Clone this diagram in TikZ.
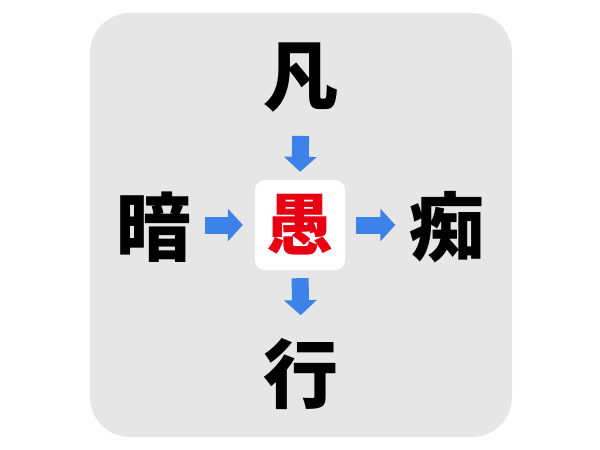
\documentclass[tikz,border=0pt]{standalone}
\usepackage{fontspec}
\newfontfamily\cjk{Noto Sans CJK JP}
\usetikzlibrary{arrows.meta}

\definecolor{panelgray}{HTML}{E6E6E6}
\definecolor{arrowblue}{HTML}{3D82E8}
\definecolor{answerred}{HTML}{E60012}

\begin{document}
\begin{tikzpicture}[x=1pt, y=-1pt]
  \tikzstyle{panel} = [fill=panelgray, rounded corners=40pt, minimum width=422pt, minimum height=424pt, inner sep=0pt]
  \tikzstyle{answer} = [fill=white, rounded corners=10pt, minimum size=90pt, inner sep=0pt, text=answerred, font=\cjk\bfseries\fontsize{67}{67}\selectfont]
  \tikzstyle{kanji} = [inner sep=0pt, font=\cjk\bfseries\fontsize{75}{75}\selectfont]
  \tikzstyle{hint} = [line width=17pt, draw=arrowblue, -{Triangle[width=32pt, length=15pt]}]

  \useasboundingbox (0,0) rectangle (600,450);

  \node[panel] (board) at (301,225) {};
  \node[answer] (gu) at (300,225) {愚};

  \node[kanji] (bon) at (301,78) {凡};
  \node[kanji] (an) at (154,227) {暗};
  \node[kanji] (chi) at (447,227) {痴};
  \node[kanji] (gyou) at (301,374) {行};

  \draw[hint, shorten <=23pt, shorten >=8pt] (bon.south) -- (gu.north);
  \draw[hint, shorten <=13pt, shorten >=12pt] (an.east |- gu.west) -- (gu.west);
  \draw[hint, shorten <=11pt, shorten >=14pt] (gu.east) -- (chi.west |- gu.east);
  \draw[hint, shorten <=8pt, shorten >=23pt] (gu.south) -- (gyou.north);
\end{tikzpicture}
\end{document}
